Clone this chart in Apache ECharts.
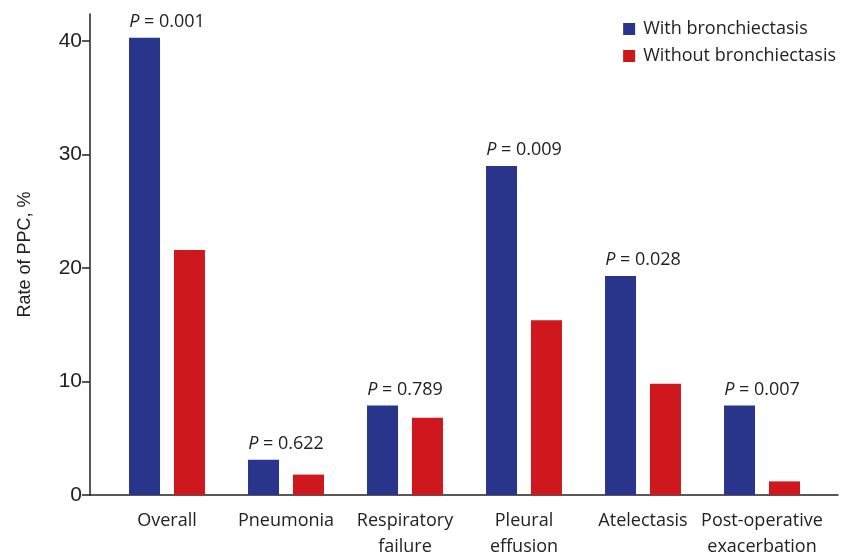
<!DOCTYPE html>
<html>
<head>
<meta charset="utf-8">
<script src="https://cdn.jsdelivr.net/npm/echarts@6/dist/echarts.min.js"></script>
<style>html,body{margin:0;padding:0;background:#fff;}#c{width:845px;height:556px;}</style>
</head>
<body>
<div id="c"></div>
<script>
var categories = ['Overall', 'Pneumonia', 'Respiratory\nfailure', 'Pleural\neffusion', 'Atelectasis', 'Post-operative\nexacerbation'];
var withBronch = [40.3, 3.1, 7.9, 29.0, 19.3, 7.9];
var withoutBronch = [21.6, 1.8, 6.8, 15.4, 9.8, 1.2];
var pValues = ['0.001', '0.622', '0.789', '0.009', '0.028', '0.007'];
var yTicks = [0, 10, 20, 30, 40];
var yMax = 42.4;

var txt = '#222';
var catFont = 'Open Sans';
var chart = echarts.init(document.getElementById('c'));
chart.setOption({
  animation: false,
  grid: [
    {left: 107.5, right: 23.5, top: 14, bottom: 61, outerBoundsMode: 'none', containLabel: false},
    {left: 90, right: 7, top: 14, bottom: 61, outerBoundsMode: 'none', containLabel: false}
  ],
  legend: {
    orient: 'vertical', right: 4, top: 15, itemWidth: 12, itemHeight: 12, itemGap: 9, icon: 'rect',
    textStyle: {color: txt, fontSize: 18, fontFamily: catFont, padding: [0, 0, 0, 3]},
    data: ['With bronchiectasis', 'Without bronchiectasis']
  },
  xAxis: [
    {type: 'category', gridIndex: 0, data: categories,
     axisLine: {show: false}, axisTick: {show: false},
     axisLabel: {color: txt, fontSize: 18, fontFamily: catFont, lineHeight: 26, margin: 13, interval: 0}},
    {type: 'value', gridIndex: 1, min: 0, max: 1,
     axisLine: {show: true, lineStyle: {color: txt, width: 1.5}}, axisTick: {show: false},
     axisLabel: {show: false}, splitLine: {show: false}}
  ],
  yAxis: [
    {type: 'value', gridIndex: 0, min: 0, max: yMax, show: false, splitLine: {show: false}},
    {type: 'value', gridIndex: 1, min: 0, max: yMax, interval: 10,
     name: 'Rate of PPC, %', nameLocation: 'middle', nameGap: 56,
     nameTextStyle: {color: txt, fontSize: 18, fontFamily: 'Liberation Sans'},
     axisLine: {show: true, lineStyle: {color: txt, width: 1.5}},
     axisTick: {show: true, length: 8, lineStyle: {color: txt, width: 1.5}, customValues: yTicks},
     axisLabel: {color: txt, fontSize: 21, fontFamily: 'Liberation Sans', margin: 8, customValues: yTicks},
     splitLine: {show: false}}
  ],
  series: [
    {name: 'With bronchiectasis', type: 'bar', xAxisIndex: 0, yAxisIndex: 0,
     data: withBronch, barWidth: 31, barGap: '45%', itemStyle: {color: '#29348b'},
     label: {show: true, position: 'top', distance: 7, offset: [22.5, 0],
       formatter: function (p) { return '{i|P} = ' + pValues[p.dataIndex]; },
       color: txt, fontSize: 18, fontFamily: catFont,
       rich: {i: {fontStyle: 'italic', fontSize: 18, fontFamily: catFont, color: txt}}}},
    {name: 'Without bronchiectasis', type: 'bar', xAxisIndex: 0, yAxisIndex: 0,
     data: withoutBronch, barWidth: 31, barGap: '45%', itemStyle: {color: '#cf181e'}}
  ]
});
</script>
</body>
</html>
